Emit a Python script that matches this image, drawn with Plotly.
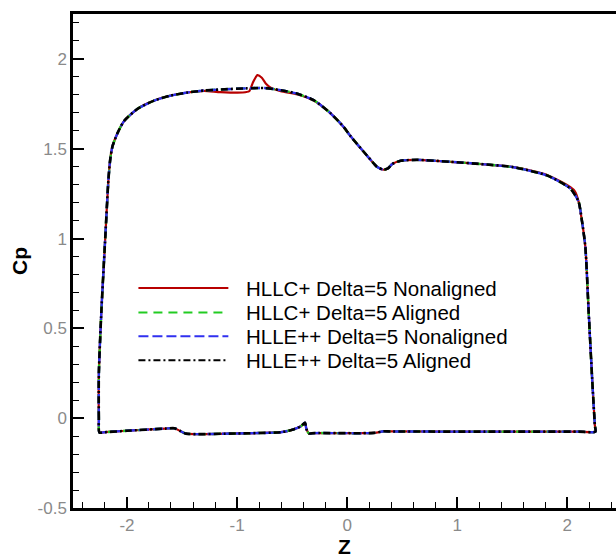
import plotly.graph_objects as go

# Surface pressure coefficient along the section, traced as one closed loop:
# up the left side, across the upper surface, down the right side, back along the lower surface.
z_aligned = [
    -2.250, -2.255, -2.255, -2.232, -2.200, -2.168, -2.150, -2.131, -2.085, -2.025,
    -1.904, -1.753, -1.602, -1.450, -1.300, -1.150, -0.920, -0.750, -0.603, -0.451,
    -0.300, -0.150, -0.030, 0.032, 0.183, 0.270, 0.330, 0.370, 0.410, 0.486,
    0.637, 0.940, 1.210, 1.513, 1.817, 2.028, 2.102, 2.133, 2.164, 2.194,
    2.225, 2.250, 2.255, 2.100, 1.500, 0.400, 0.330, 0.250, -0.300, -0.347,
    -0.370, -0.383, -0.420, -0.500, -0.603, -1.000, -1.465, -1.520, -1.570, -1.650,
    -2.000, -2.200, -2.250,
]
cp_aligned = [
    -0.080, 0.000, 0.250, 0.600, 0.970, 1.330, 1.450, 1.514, 1.588, 1.655,
    1.722, 1.768, 1.796, 1.813, 1.824, 1.830, 1.836, 1.838, 1.826, 1.806,
    1.769, 1.697, 1.620, 1.569, 1.460, 1.400, 1.383, 1.390, 1.415, 1.433,
    1.438, 1.427, 1.415, 1.397, 1.351, 1.278, 1.206, 1.097, 0.951, 0.587,
    0.224, -0.040, -0.075, -0.075, -0.075, -0.074, -0.073, -0.082, -0.083, -0.085,
    -0.060, -0.025, -0.045, -0.065, -0.078, -0.085, -0.086, -0.070, -0.056, -0.058,
    -0.070, -0.078, -0.080,
]

# HLLC+ non-aligned run: same loop, with the overshoot near Z = -0.8 on the upper surface
z_hllc_nonaligned = [
    -2.250, -2.255, -2.255, -2.232, -2.200, -2.168, -2.150, -2.131, -2.085, -2.025,
    -1.904, -1.753, -1.602, -1.450, -1.300, -1.150, -0.950, -0.890, -0.855, -0.815,
    -0.775, -0.735, -0.694, -0.603, -0.451, -0.300, -0.150, -0.030, 0.032, 0.183,
    0.270, 0.330, 0.370, 0.410, 0.486, 0.637, 0.940, 1.210, 1.513, 1.817,
    2.028, 2.070, 2.102, 2.133, 2.164, 2.194, 2.225, 2.250, 2.255, 2.100,
    1.500, 0.400, 0.330, 0.250, -0.300, -0.347, -0.370, -0.383, -0.420, -0.500,
    -0.603, -1.000, -1.465, -1.520, -1.570, -1.650, -2.000, -2.200, -2.250,
]
cp_hllc_nonaligned = [
    -0.080, 0.000, 0.250, 0.600, 0.970, 1.330, 1.450, 1.514, 1.588, 1.655,
    1.722, 1.768, 1.796, 1.813, 1.822, 1.815, 1.813, 1.820, 1.870, 1.910,
    1.895, 1.860, 1.840, 1.820, 1.802, 1.767, 1.697, 1.620, 1.569, 1.460,
    1.400, 1.383, 1.390, 1.415, 1.433, 1.438, 1.427, 1.415, 1.398, 1.354,
    1.286, 1.262, 1.206, 1.097, 0.951, 0.587, 0.224, -0.040, -0.075, -0.075,
    -0.075, -0.074, -0.073, -0.082, -0.083, -0.085, -0.060, -0.025, -0.045, -0.065,
    -0.078, -0.085, -0.086, -0.070, -0.056, -0.058, -0.070, -0.078, -0.080,
]

series_names = [
    "HLLC+ Delta=5 Nonaligned",
    "HLLC+ Delta=5 Aligned",
    "HLLE++ Delta=5 Nonaligned",
    "HLLE++ Delta=5 Aligned",
]

x_tick_vals = [-2, -1, 0, 1, 2]
x_tick_labels = ["-2", "-1", "0", "1", "2"]
y_tick_vals = [-0.5, 0, 0.5, 1, 1.5, 2]
y_tick_labels = ["-0.5", "0", "0.5", "1", "1.5", "2"]

styles = [
    dict(color="#b80000", dash="solid", width=2.2),
    dict(color="#22cc22", dash="9px,6px", width=2.4),
    dict(color="#3030f0", dash="10px,4px", width=2.4),
    dict(color="#000000", dash="7px,3px,2px,3px", width=2.6),
]
curves = [
    (z_hllc_nonaligned, cp_hllc_nonaligned),
    (z_aligned, cp_aligned),
    (z_aligned, cp_aligned),
    (z_aligned, cp_aligned),
]

fig = go.Figure()
for name, (zs, cps), st in zip(series_names, curves, styles):
    fig.add_trace(go.Scatter(
        x=zs, y=cps, mode="lines", name=name, showlegend=False,
        line=dict(color=st["color"], dash=st["dash"], width=st["width"],
                  shape="spline", smoothing=0.6),
    ))

# Legend drawn as long line samples with labels inside the plot
leg_x0, leg_x1, leg_text_x = 0.1205, 0.2861, 0.3155
leg_rows = [0.4453, 0.3960, 0.3478, 0.2991]
for name, st, yy in zip(series_names, styles, leg_rows):
    fig.add_shape(type="line", xref="paper", yref="paper",
                  x0=leg_x0, x1=leg_x1, y0=yy, y1=yy,
                  line=dict(color=st["color"], dash=st["dash"], width=2))
    fig.add_annotation(xref="paper", yref="paper", x=leg_text_x, y=yy,
                       text=name, showarrow=False, xanchor="left", yanchor="middle",
                       font=dict(family="Liberation Sans, Arial, sans-serif",
                                 size=20.5, color="#000000"))

tick_font = dict(family="Liberation Sans Narrow, Liberation Sans, Arial, sans-serif",
                 size=17, color="#8a8a8a")
title_font = dict(family="Liberation Sans, Arial, sans-serif", size=21, color="#000000")

fig.update_layout(
    width=616, height=558,
    margin=dict(l=72.5, r=0, t=13.5, b=43),
    paper_bgcolor="white", plot_bgcolor="white",
    xaxis=dict(
        range=[-2.49, 2.442], showgrid=False, zeroline=False,
        showline=True, linecolor="black", linewidth=2.5, mirror=True,
        ticks="inside", ticklen=11, tickwidth=2, tickcolor="black",
        tickvals=x_tick_vals, ticktext=x_tick_labels, tickfont=tick_font,
        minor=dict(dtick=0.2, ticks="inside", ticklen=6, tickwidth=1, tickcolor="black"),
        title=dict(text="<b>Z</b>", font=title_font, standoff=8),
    ),
    yaxis=dict(
        range=[-0.5, 2.25], showgrid=False, zeroline=False,
        showline=True, linecolor="black", linewidth=2.5,
        ticks="inside", ticklen=11, tickwidth=2, tickcolor="black",
        tickvals=y_tick_vals, ticktext=y_tick_labels, tickfont=tick_font,
        minor=dict(dtick=0.1, ticks="inside", ticklen=6, tickwidth=1, tickcolor="black"),
        title=dict(text="<b>Cp</b>", font=title_font, standoff=5),
    ),
)

fig.write_html("out.html")
